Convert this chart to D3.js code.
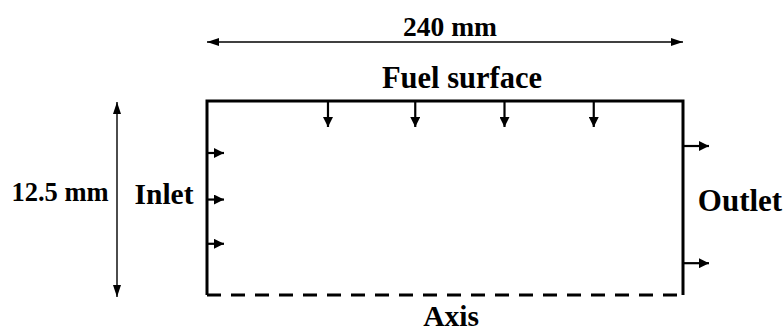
<!DOCTYPE html>
<html><head><meta charset="utf-8">
<script src="https://cdn.jsdelivr.net/npm/d3@7"></script>
<style>
html,body{margin:0;padding:0;background:#fff;}
svg text{font-family:"Liberation Serif","Times New Roman",serif;font-weight:bold;fill:#000;}
</style></head>
<body>
<svg id="c" width="784" height="333"></svg>
<script>
// Domain dimensions (mm)
const domainLength = [0, 240];
const domainHeight = [0, 12.5];
// Arrow locations
const fuelArrowsX = [61, 105, 150, 195];     // mm along fuel surface
const inletArrowsY = [9.15, 6.15, 3.3];      // mm along inlet
const outletArrowsY = [9.6, 2.05];           // mm along outlet
// Labels
const labels = ["240 mm", "Fuel surface", "12.5 mm", "Inlet", "Outlet", "Axis"];

const svg = d3.select("#c");
const x = d3.scaleLinear().domain(domainLength).range([207, 683]);
const y = d3.scaleLinear().domain(domainHeight).range([295, 101]);

const defs = svg.append("defs");
function marker(id, w, h, orient) {
  defs.append("marker").attr("id", id)
    .attr("viewBox", `0 0 ${w} ${h}`).attr("refX", w).attr("refY", h/2)
    .attr("markerWidth", w).attr("markerHeight", h).attr("markerUnits", "userSpaceOnUse")
    .attr("orient", orient)
    .append("path").attr("d", `M0,0L${w},${h/2}L0,${h}Z`).attr("fill", "#000");
}
marker("dim", 12, 8, "auto-start-reverse");
marker("flow", 10, 10, "auto");

// Dimension line: length
svg.append("line").attr("x1", x(0)).attr("x2", x(240)).attr("y1", 42).attr("y2", 42)
  .attr("stroke", "#000").attr("stroke-width", 1.4)
  .attr("marker-start", "url(#dim)").attr("marker-end", "url(#dim)");
// Dimension line: height
svg.append("line").attr("x1", 117).attr("x2", 117).attr("y1", y(12.5)+1).attr("y2", y(0)+2)
  .attr("stroke", "#000").attr("stroke-width", 1.4)
  .attr("marker-start", "url(#dim)").attr("marker-end", "url(#dim)");

// Domain boundaries
const solid = d3.line()([[x(0), y(0)], [x(0), y(12.5)], [x(240), y(12.5)], [x(240), y(0)]]);
svg.append("path").attr("d", solid).attr("fill", "none").attr("stroke", "#000").attr("stroke-width", 3);
svg.append("line").attr("x1", x(0)).attr("x2", x(240)).attr("y1", y(0)).attr("y2", y(0))
  .attr("stroke", "#000").attr("stroke-width", 3).attr("stroke-dasharray", "14,10");

// Fuel surface arrows
svg.selectAll(".fa").data(fuelArrowsX).join("line").attr("class", "fa")
  .attr("x1", d => x(d)).attr("x2", d => x(d)).attr("y1", y(12.5)).attr("y2", y(12.5)+26)
  .attr("stroke", "#000").attr("stroke-width", 2.2).attr("marker-end", "url(#flow)");
// Inlet arrows
svg.selectAll(".ia").data(inletArrowsY).join("line").attr("class", "ia")
  .attr("x1", x(0)).attr("x2", x(0)+17).attr("y1", d => y(d)).attr("y2", d => y(d))
  .attr("stroke", "#000").attr("stroke-width", 2.2).attr("marker-end", "url(#flow)");
// Outlet arrows
svg.selectAll(".oa").data(outletArrowsY).join("line").attr("class", "oa")
  .attr("x1", x(240)).attr("x2", x(240)+26).attr("y1", d => y(d)).attr("y2", d => y(d))
  .attr("stroke", "#000").attr("stroke-width", 2.2).attr("marker-end", "url(#flow)");

// Labels
const labelPos = [
  {x: 450, y: 36, s: 27.5, a: "middle"},
  {x: 462, y: 88, s: 30.5, a: "middle"},
  {x: 60, y: 201, s: 26.5, a: "middle"},
  {x: 164, y: 204, s: 29.5, a: "middle"},
  {x: 740, y: 211, s: 31, a: "middle"},
  {x: 451, y: 326, s: 29.5, a: "middle"}
];
svg.selectAll(".lbl").data(labels).join("text").attr("class", "lbl")
  .attr("x", (d, i) => labelPos[i].x).attr("y", (d, i) => labelPos[i].y)
  .attr("font-size", (d, i) => labelPos[i].s).attr("text-anchor", (d, i) => labelPos[i].a)
  .text(d => d);
</script>
</body></html>
